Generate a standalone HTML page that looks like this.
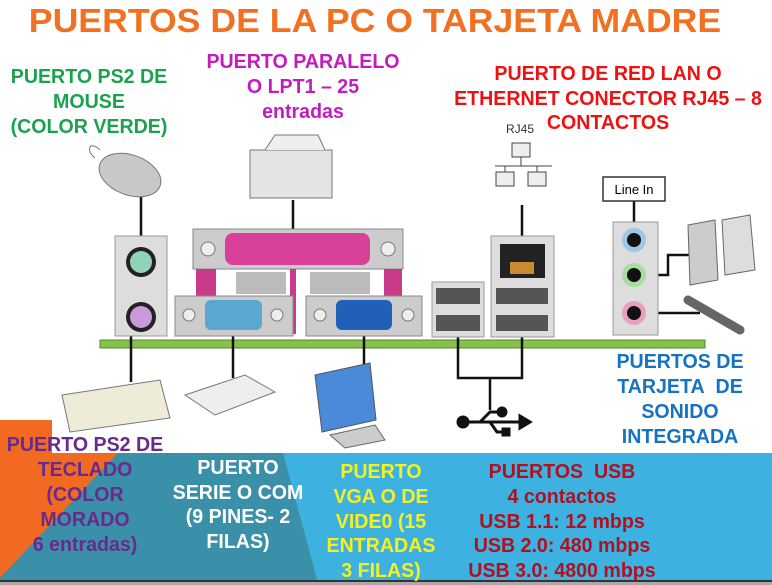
<!DOCTYPE html>
<html><head><meta charset="utf-8"><style>
*{margin:0;padding:0}
body{width:772px;height:585px;position:relative;overflow:hidden;background:#fff;font-family:"Liberation Sans",Arial,sans-serif;font-weight:bold}
.t{position:absolute;white-space:nowrap;transform:translateX(-50%) scaleX(.98);text-align:center;line-height:1;font-size:20px !important}
svg{position:absolute;left:0;top:0}
</style></head><body>
<svg width="772" height="585" viewBox="0 0 772 585">
<rect x="0" y="453" width="772" height="130" fill="#3db2e0"/>
<polygon points="0,453 283,453 318,583 0,583" fill="#3a8fa9"/>
<polygon points="0,420 52,420 52,453 118,453 0,578" fill="#f26a22"/>
<rect x="0" y="580" width="772" height="2" fill="#333"/>
<rect x="0" y="582" width="772" height="3" fill="#aaa"/>

<rect x="100" y="340" width="605" height="8" fill="#86c24a" stroke="#4f8a2a" stroke-width="1"/>

<g stroke="#111" stroke-width="2.5" fill="none">
<path d="M141 195 V262"/>
<path d="M131 317 V382"/>
<path d="M293 200 V245"/>
<path d="M233 320 V378"/>
<path d="M364 320 V365"/>
<path d="M458 300 V378 H522 V300"/>
<path d="M490 378 V410"/>
<path d="M522 205 V250"/>
<path d="M634 200 V240"/>
<path d="M650 275 H668 V255 H690"/>
<path d="M650 313 H700"/>
</g>

<rect x="115" y="236" width="52" height="100" fill="#ddd" stroke="#999"/>
<circle cx="141" cy="262" r="15" fill="#222"/><circle cx="141" cy="262" r="11" fill="#8fd4b8"/>
<circle cx="141" cy="317" r="15" fill="#222"/><circle cx="141" cy="317" r="11" fill="#c89ad8"/>

<rect x="193" y="229" width="210" height="40" fill="#ccc" stroke="#888"/>
<rect x="225" y="233" width="145" height="32" rx="8" fill="#d8409a"/>
<circle cx="208" cy="249" r="7" fill="#eee" stroke="#777"/><circle cx="388" cy="249" r="7" fill="#eee" stroke="#777"/>
<rect x="196" y="269" width="20" height="28" fill="#c83a8a"/><rect x="290" y="269" width="6" height="65" fill="#c83a8a"/><rect x="384" y="269" width="18" height="28" fill="#c83a8a"/>
<rect x="236" y="272" width="50" height="22" fill="#bbb"/><rect x="310" y="272" width="60" height="22" fill="#bbb"/>
<rect x="175" y="296" width="118" height="40" fill="#ccc" stroke="#888"/>
<rect x="205" y="300" width="57" height="30" rx="6" fill="#5aa8d0"/>
<circle cx="189" cy="315" r="6" fill="#eee" stroke="#777"/><circle cx="277" cy="315" r="6" fill="#eee" stroke="#777"/>
<rect x="306" y="296" width="116" height="40" fill="#ccc" stroke="#888"/>
<rect x="336" y="300" width="56" height="30" rx="6" fill="#2060b8"/>
<circle cx="320" cy="315" r="6" fill="#eee" stroke="#777"/><circle cx="408" cy="315" r="6" fill="#eee" stroke="#777"/>
<rect x="432" y="282" width="52" height="55" fill="#ddd" stroke="#999"/>
<rect x="436" y="288" width="44" height="16" fill="#555"/><rect x="436" y="315" width="44" height="16" fill="#555"/>
<rect x="491" y="236" width="63" height="101" fill="#ddd" stroke="#999"/>
<rect x="500" y="244" width="45" height="34" fill="#222"/><rect x="510" y="262" width="24" height="12" fill="#c98a30"/>
<rect x="496" y="288" width="52" height="16" fill="#555"/><rect x="496" y="315" width="52" height="16" fill="#555"/>
<rect x="613" y="222" width="45" height="113" fill="#ddd" stroke="#999"/>
<circle cx="634" cy="240" r="12" fill="#9cc8e8"/><circle cx="634" cy="240" r="7" fill="#111"/>
<circle cx="634" cy="275" r="12" fill="#a8dca0"/><circle cx="634" cy="275" r="7" fill="#111"/>
<circle cx="634" cy="313" r="12" fill="#e8a0c0"/><circle cx="634" cy="313" r="7" fill="#111"/>
<rect x="603" y="177" width="62" height="24" fill="#fff" stroke="#333" stroke-width="1.5"/>
<text x="634" y="194" font-family="Liberation Sans" font-size="13" text-anchor="middle" font-weight="normal">Line In</text>
<path d="M688 225 L715 220 L718 280 L690 285 Z" fill="#ccc" stroke="#666"/>
<path d="M722 220 L750 215 L755 270 L725 275 Z" fill="#ddd" stroke="#666"/>
<path d="M688 300 L740 330" stroke="#666" stroke-width="9" stroke-linecap="round"/>
<ellipse cx="130" cy="175" rx="32" ry="20" fill="#c8c8c8" stroke="#777" transform="rotate(20 130 175)"/>
<path d="M95 158 C85 150 90 140 100 150" stroke="#777" fill="none"/>
<rect x="250" y="150" width="82" height="48" fill="#e4e4e4" stroke="#777"/>
<path d="M265 150 L275 135 L318 135 L325 150" fill="#eee" stroke="#777"/>
<g fill="#eee" stroke="#444">
<rect x="512" y="143" width="18" height="14"/><rect x="496" y="172" width="18" height="14"/><rect x="528" y="172" width="18" height="14"/>
</g>
<path d="M521 157 V166 M495 166 H552 M505 166 V172 M537 166 V172" stroke="#444"/>
<text x="506" y="133" font-family="Liberation Sans" font-size="12" font-weight="normal" fill="#333">RJ45</text>
<path d="M62 395 L160 380 L170 418 L70 432 Z" fill="#eeecd8" stroke="#777"/>
<path d="M185 395 L245 375 L275 392 L215 415 Z" fill="#eee" stroke="#777"/>
<path d="M315 375 L370 363 L376 420 L322 432 Z" fill="#4a8ad8" stroke="#555"/>
<path d="M330 435 L375 425 L385 440 L345 448 Z" fill="#ccc" stroke="#666"/>
<g stroke="#111" stroke-width="3" fill="#111">
<circle cx="463" cy="422" r="5"/><path d="M463 422 H520" fill="none"/><path d="M520 416 L530 422 L520 428 Z"/>
<path d="M480 422 L490 412 H500" fill="none"/><circle cx="502" cy="412" r="4"/>
<path d="M490 422 L497 432 H505" fill="none"/><rect x="503" y="429" width="6" height="6"/>
</g>
</svg>

<div class="t" style="left:375px;top:4px;font-size:33px !important;color:#f27022;transform:translateX(-50%) scaleX(1.08)">PUERTOS DE LA PC O TARJETA MADRE</div>

<div class="t" style="left:89px;top:65px;color:#1ba150;line-height:25px">PUERTO PS2 DE<br>MOUSE<br>(COLOR VERDE)</div>
<div class="t" style="left:303px;top:50px;color:#c21cbf;line-height:25px">PUERTO PARALELO<br>O LPT1 – 25<br>entradas</div>
<div class="t" style="left:608px;top:62px;color:#ee1111;line-height:24.5px">PUERTO DE RED LAN O<br>ETHERNET CONECTOR RJ45 – 8<br>CONTACTOS</div>
<div class="t" style="left:680px;top:350px;color:#1672c2;line-height:25px">PUERTOS DE<br>TARJETA&nbsp; DE<br>SONIDO<br>INTEGRADA</div>

<div class="t" style="left:85px;top:433px;color:#6a2a8c;line-height:25px">PUERTO PS2 DE<br>TECLADO<br>(COLOR<br>MORADO<br>6 entradas)</div>
<div class="t" style="left:238px;top:456px;color:#fff;line-height:24.5px">PUERTO<br>SERIE O COM<br>(9 PINES- 2<br>FILAS)</div>
<div class="t" style="left:381px;top:460px;color:#f5f020;line-height:24.8px">PUERTO<br>VGA O DE<br>VIDE0 (15<br>ENTRADAS<br>3 FILAS)</div>
<div class="t" style="left:562px;top:460px;color:#b01020;line-height:24.8px">PUERTOS&nbsp; USB<br>4 contactos<br>USB 1.1: 12 mbps<br>USB 2.0: 480 mbps<br>USB 3.0: 4800 mbps</div>
</body></html>
